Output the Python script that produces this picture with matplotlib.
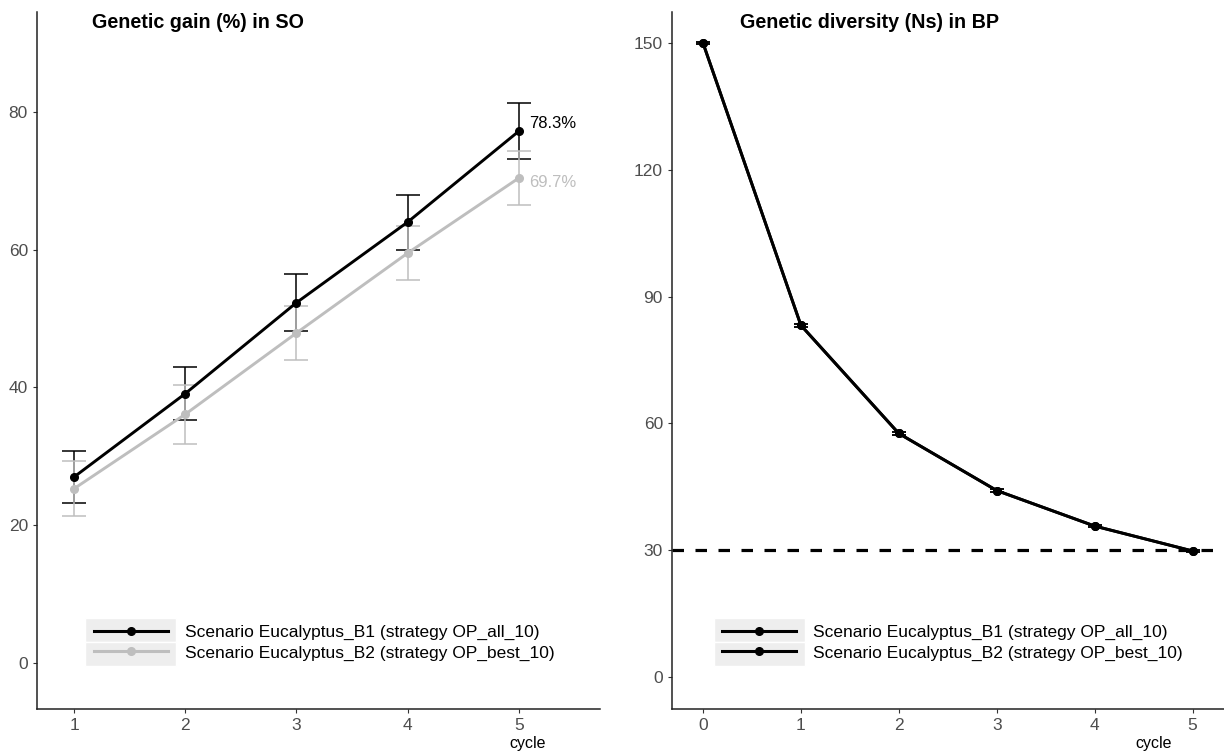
import numpy as np
import matplotlib
matplotlib.use("Agg")
import matplotlib.pyplot as plt
from matplotlib.patches import Rectangle
from matplotlib.lines import Line2D

plt.rcParams['font.family'] = ['Liberation Sans', 'DejaVu Sans']

# data
cycles = [1, 2, 3, 4, 5]
gain_b1 = [27.0, 39.1, 52.3, 64.0, 77.2]
gain_b1_err = [3.8, 3.8, 4.1, 4.0, 4.1]
gain_b2 = [25.3, 36.1, 47.9, 59.5, 70.4]
gain_b2_err = [4.0, 4.3, 3.9, 3.9, 3.9]
gain_final = ["78.3%", "69.7%"]
gain_final_y = [78.3, 69.7]

ns_cycles = [0, 1, 2, 3, 4, 5]
ns_b1 = [150, 83.2, 57.6, 44.1, 35.7, 29.8]
ns_b2 = [150, 83.2, 57.6, 44.1, 35.7, 29.8]
ns_err = [0.3, 0.3, 0.3, 0.3, 0.3, 0.3]
ns_target = 30

labels = ["Scenario Eucalyptus_B1 (strategy OP_all_10)",
          "Scenario Eucalyptus_B2 (strategy OP_best_10)"]

black = "#000000"
grey = "#BEBEBE"
tick_col = "#4D4D4D"

fig = plt.figure(figsize=(12.24, 7.56), dpi=100)
ax1 = fig.add_axes([37/1224, 47/756, 563/1224, 697/756])
ax2 = fig.add_axes([672/1224, 47/756, 552/1224, 697/756])


def style(ax):
    for s in ["top", "right"]:
        ax.spines[s].set_visible(False)
    for s in ["left", "bottom"]:
        ax.spines[s].set_color("#222222")
        ax.spines[s].set_linewidth(1.1)
    ax.tick_params(colors="#333333", labelcolor=tick_col, labelsize=12.5, length=3, width=0.8)
    ax.set_xlabel("cycle", fontsize=11.5, color="black", va="center")
    ax.xaxis.set_label_coords(0.872, -0.049)


def key_boxes(ax, x0, x1):
    # grey key background like ggplot
    ax.add_patch(Rectangle((x0, 0.0955), x1 - x0, 0.0345, transform=ax.transAxes,
                           facecolor="#EEEEEE", edgecolor="white", lw=1, zorder=1))
    ax.add_patch(Rectangle((x0, 0.061), x1 - x0, 0.0345, transform=ax.transAxes,
                           facecolor="#EEEEEE", edgecolor="white", lw=1, zorder=1))


def add_legend(ax, colors, x):
    h = [Line2D([], [], color=c, lw=2.2, marker="o", ms=5.5) for c in colors]
    ax.legend(h, labels, loc="center left", bbox_to_anchor=(x, 0.095), frameon=False,
              fontsize=12.5, handlelength=4.25, handletextpad=1.0, labelspacing=0.3,
              borderpad=0, borderaxespad=0)


# left: genetic gain
for y, e, c in [(gain_b1, gain_b1_err, black), (gain_b2, gain_b2_err, grey)]:
    ax1.errorbar(cycles, y, yerr=e, color=c, lw=2.1, marker="o", ms=5.5,
                 elinewidth=1.1, capsize=8.5, capthick=1.1, zorder=3)
for t, yy, c in zip(gain_final, gain_final_y, [black, grey]):
    ax1.text(5.09, yy, t, color=c, fontsize=12, va="center", ha="left")
ax1.set_xlim(0.667, 5.73)
ax1.set_ylim(-6.68, 94.5)
ax1.set_xticks(cycles)
ax1.set_yticks([0, 20, 40, 60, 80])
style(ax1)
ax1.text(0.098, 0.985, "Genetic gain (%) in SO", transform=ax1.transAxes,
         fontsize=14.2, fontweight="bold", va="center", ha="left")
key_boxes(ax1, 0.085, 0.247)
add_legend(ax1, [black, grey], 0.101)

# right: genetic diversity
ax2.axhline(ns_target, color="black", lw=2.3, ls=(0, (3.6, 3.6)), zorder=2)
for y in [ns_b1, ns_b2]:
    ax2.errorbar(ns_cycles, y, yerr=ns_err, color=black, lw=2.1, marker="o", ms=5.5,
                 elinewidth=1.1, capsize=5, capthick=1.1, zorder=3)
ax2.set_xlim(-0.316, 5.32)
ax2.set_ylim(-7.57, 157.3)
ax2.set_xticks(ns_cycles)
ax2.set_yticks([0, 30, 60, 90, 120, 150])
style(ax2)
ax2.text(0.123, 0.985, "Genetic diversity (Ns) in BP", transform=ax2.transAxes,
         fontsize=14.2, fontweight="bold", va="center", ha="left")
key_boxes(ax2, 0.076, 0.241)
add_legend(ax2, [black, black], 0.091)

plt.savefig("out.png", dpi=100)
